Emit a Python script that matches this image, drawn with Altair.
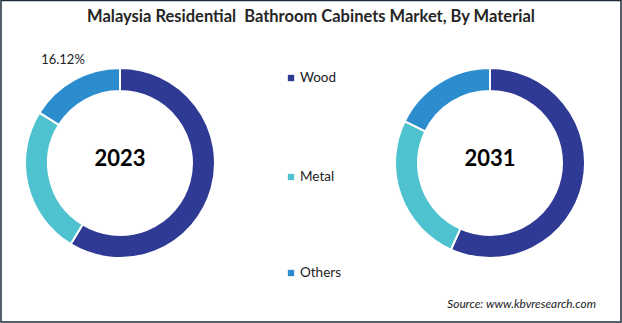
import altair as alt
import pandas as pd

materials = ["Wood", "Metal", "Others"]
colors = ["#2E3A94", "#4EC3CF", "#2B8CCE"]
years = ["2023", "2031"]
share_2023 = [58.70, 25.18, 16.12]
share_2031 = [56.75, 25.50, 17.75]

rows = []
for yr, vals in zip(years, [share_2023, share_2031]):
    for i, (m, v) in enumerate(zip(materials, vals)):
        rows.append({"year": yr, "material": m, "share": v, "order": i})
df = pd.DataFrame(rows)

W, H = 622, 323
centers = {"2023": (120, 163), "2031": (490, 163)}
R_OUT, R_IN = 95, 72

color_scale = alt.Scale(domain=materials, range=colors)
theta_scale = alt.Scale(domain=[0, 100], range=[0, 6.283185307])

layers = []
for yr in years:
    cx, cy = centers[yr]
    base = alt.Chart(df).transform_filter(alt.datum.year == yr)
    arc = base.mark_arc(outerRadius=R_OUT, innerRadius=R_IN, stroke="white", strokeWidth=2).encode(
        theta=alt.Theta("share:Q", stack=True, scale=theta_scale),
        color=alt.Color("material:N", scale=color_scale, legend=None),
        order=alt.Order("order:Q"),
        x=alt.value(cx), y=alt.value(cy),
    )
    center_txt = alt.Chart(pd.DataFrame({"t": [yr]})).mark_text(
        font="Lato", fontSize=22, fontWeight="bold", color="#000000"
    ).encode(text="t:N", x=alt.value(cx), y=alt.value(cy - 4))
    layers += [arc, center_txt]

pct = alt.Chart(pd.DataFrame({"t": [f"{share_2023[2]:.2f}%"]})).mark_text(
    font="Lato", fontSize=13, color="#222222"
).encode(text="t:N", x=alt.value(63), y=alt.value(60))

leg_df = pd.DataFrame({"material": materials, "ypos": [78, 177, 273]})
leg_sq = alt.Chart(leg_df).mark_square(size=40, opacity=1).encode(
    x=alt.value(291), y=alt.Y("ypos:Q", scale=None),
    color=alt.Color("material:N", scale=color_scale, legend=None),
)
leg_txt = alt.Chart(leg_df).mark_text(
    font="Lato", fontSize=13.5, align="left", color="#222222"
).encode(x=alt.value(300), y=alt.Y("ypos:Q", scale=None), text="material:N")

title = alt.Chart(pd.DataFrame({"t": ["Malaysia Residential\u00a0 Bathroom Cabinets Market, By Material"]})).mark_text(
    font="Lato", fontSize=16.5, fontWeight="bold", color="#262626"
).encode(text="t:N", x=alt.value(311), y=alt.value(17))

source = alt.Chart(pd.DataFrame({"t": ["Source: www.kbvresearch.com"]})).mark_text(
    font="Lato", fontSize=11.8, fontStyle="italic", align="right", color="#222222"
).encode(text="t:N", x=alt.value(596), y=alt.value(304))

border = alt.Chart(pd.DataFrame({"a": [0]})).mark_rect(
    fill=None, stroke="#1F2D3A", strokeWidth=1.5
).encode(x=alt.value(1), x2=alt.value(621), y=alt.value(0.5), y2=alt.value(322))

chart = alt.layer(border, *layers, pct, leg_sq, leg_txt, title, source).properties(
    width=W, height=H, padding=0, autosize=alt.AutoSizeParams(type="none"), background="white"
).configure_view(stroke=None)

chart.save("out.html", embed_options={"renderer": "svg", "actions": False})
